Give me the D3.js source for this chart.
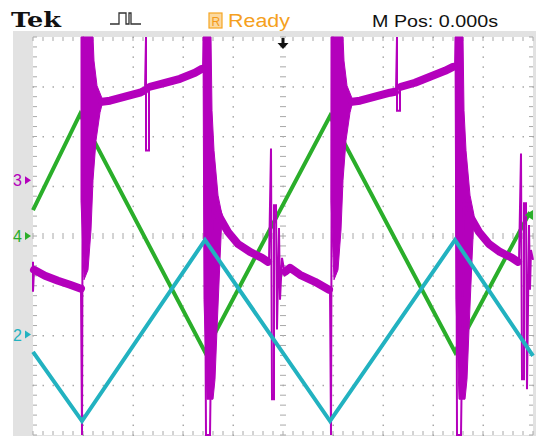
<!DOCTYPE html>
<html>
<head>
<meta charset="utf-8">
<script src="https://cdn.jsdelivr.net/npm/d3@7"></script>
<style>
  body { margin: 0; background: #fff; }
  svg { display: block; }
</style>
</head>
<body>
<div id="scope"></div>
<script>
// values in screen divisions: time (-5..5 div), volts (-4..4 div)
var ch4Green = [[-5.00, 0.52], [-4.06, 2.45], [-1.56, -2.33], [0.94, 2.41], [3.44, -2.33], [4.94, 0.48]];
var ch2Cyan = [[-5.00, -2.33], [-4.02, -3.72], [-1.56, -0.08], [0.94, -3.72], [3.44, -0.08], [5.00, -2.41]];

// ch3 main trace
var ch3Trace = [
  [-5.00, -0.52], [-5.00, -1.12], [-4.98, -0.68], [-4.76, -0.80], [-4.50, -0.90], [-4.26, -0.98], [-4.04, -1.06],
  [-4.02, -4.00], [-4.00, 4.00], [-3.70, 2.72], [-3.46, 2.72], [-3.16, 2.80], [-2.86, 2.88], [-2.76, 2.92],
  [-2.74, 4.00], [-2.74, 1.72], [-2.68, 1.72], [-2.68, 3.00], [-2.36, 3.08], [-2.06, 3.16], [-1.76, 3.28],
  [-1.60, 3.36], [-1.58, 4.00], [-1.54, -4.00], [-1.46, -4.00], [-1.40, 0.72], [-1.26, 0.36], [-1.10, 0.08],
  [-0.90, -0.16], [-0.66, -0.32], [-0.42, -0.44], [-0.28, -0.52], [-0.24, 1.76], [-0.22, -3.28], [-0.18, -3.28],
  [-0.18, 0.62], [-0.14, 0.62], [-0.12, -1.88], [-0.08, 0.16], [-0.06, -1.28], [-0.02, -0.44], [0.04, -0.78],
  [0.14, -0.64], [0.34, -0.78], [0.64, -0.92], [0.94, -1.08], [0.96, -4.00], [0.98, 4.00], [1.30, 2.72],
  [1.54, 2.72], [1.84, 2.80], [2.14, 2.88], [2.26, 2.90], [2.28, 4.00], [2.28, 2.52], [2.34, 2.52], [2.34, 3.00],
  [2.64, 3.08], [2.94, 3.20], [3.24, 3.32], [3.44, 3.40], [3.46, 4.00], [3.48, -4.00], [3.56, -4.00], [3.62, 0.72],
  [3.76, 0.36], [3.92, 0.08], [4.12, -0.16], [4.34, -0.32], [4.58, -0.44], [4.72, -0.52], [4.76, 1.66],
  [4.78, -2.88], [4.82, -2.88], [4.82, 0.66], [4.86, 0.66], [4.88, -3.08], [4.92, 0.22], [4.94, -1.08],
  [4.96, -0.28], [5.00, -0.48]
];

// ch3 ringing envelopes at the switching edges
var ch3Bursts = [
  [[-4.04, 4.00], [-3.80, 4.00], [-3.78, 3.52], [-3.72, 3.02], [-3.60, 2.72], [-3.66, 2.48], [-3.74, 1.92],
   [-3.80, 1.12], [-3.84, 0.12], [-3.90, -0.68], [-3.98, -0.88], [-4.04, 0.72]],
  [[-1.60, 4.00], [-1.44, 4.00], [-1.42, 2.52], [-1.38, 1.72], [-1.30, 0.82], [-1.22, 0.42], [-1.26, -0.48],
   [-1.32, -1.88], [-1.36, -2.88], [-1.40, -3.28], [-1.52, -3.28], [-1.58, -1.28]],
  [[0.96, 4.00], [1.20, 4.00], [1.22, 3.52], [1.28, 3.02], [1.40, 2.72], [1.34, 2.48], [1.26, 1.92],
   [1.20, 1.12], [1.16, 0.12], [1.10, -0.68], [1.02, -0.88], [0.96, 0.72]],
  [[3.44, 4.00], [3.60, 4.00], [3.62, 2.52], [3.66, 1.72], [3.74, 0.82], [3.82, 0.42], [3.78, -0.48],
   [3.72, -1.88], [3.68, -2.88], [3.64, -3.28], [3.52, -3.28], [3.46, -1.28]]
];

// ch3 noisy plateaus
var ch3Noise = [
  [[-4.98, -0.68], [-4.76, -0.80], [-4.50, -0.90], [-4.26, -0.98], [-4.04, -1.06]],
  [[-3.62, 2.70], [-3.46, 2.72], [-3.16, 2.80], [-2.86, 2.88], [-2.78, 2.92]],
  [[-2.66, 3.00], [-2.36, 3.08], [-2.06, 3.16], [-1.76, 3.28], [-1.62, 3.36]],
  [[-1.36, 0.62], [-1.26, 0.36], [-1.10, 0.08], [-0.90, -0.16], [-0.66, -0.32], [-0.42, -0.44], [-0.30, -0.52]],
  [[0.04, -0.72], [0.14, -0.64], [0.34, -0.78], [0.64, -0.92], [0.92, -1.08]],
  [[1.38, 2.70], [1.54, 2.72], [1.84, 2.80], [2.14, 2.88], [2.24, 2.90]],
  [[2.36, 3.00], [2.64, 3.08], [2.94, 3.20], [3.24, 3.32], [3.40, 3.40]],
  [[3.64, 0.62], [3.76, 0.36], [3.92, 0.08], [4.12, -0.16], [4.34, -0.32], [4.58, -0.44], [4.70, -0.52]]
];

// channel ground markers (div)
var markers = [
  {label: "3", level: 1.12, color: "#b400bc"},
  {label: "4", level: 0.0, color: "#2aae2a"},
  {label: "2", level: -1.98, color: "#22b2c0"}
];

var W = 536, H = 436;
var plot = {left: 33, right: 533, top: 37, bottom: 435};

var svg = d3.select("#scope").append("svg")
  .attr("width", W)
  .attr("height", H);

var x = d3.scaleLinear().domain([-5, 5]).range([plot.left, plot.right]);
var y = d3.scaleLinear().domain([-4, 4]).range([plot.bottom, plot.top]);

// frame
svg.append("rect").attr("x", 13).attr("y", 31).attr("width", W - 13).attr("height", H - 31).attr("fill", "#e2e2e2");
svg.append("rect").attr("x", plot.left).attr("y", plot.top)
  .attr("width", plot.right - plot.left).attr("height", plot.bottom - plot.top).attr("fill", "#fff");

// ****************** grid ***************************
var grid = svg.append("g").attr("fill", "#a8a8a8").attr("stroke", "#a8a8a8");
var minors = d3.range(-25, 26).map(function(k) { return k / 5; });
var minorsV = d3.range(-20, 21).map(function(k) { return k / 5; });

d3.range(-4, 5).forEach(function(i) {
  if (i === 0) return;
  grid.selectAll(null).data(minorsV).enter().append("rect")
    .attr("x", x(i) - 0.5).attr("y", function(d) { return y(d) - 0.5; })
    .attr("width", 1.5).attr("height", 1.5).attr("stroke", "none");
});
d3.range(-3, 4).forEach(function(j) {
  if (j === 0) return;
  grid.selectAll(null).data(minors).enter().append("rect")
    .attr("x", function(d) { return x(d) - 0.5; }).attr("y", y(j) - 0.5)
    .attr("width", 1.5).attr("height", 1.5).attr("stroke", "none");
});

// center crosshair ticks
grid.selectAll(null).data(minorsV).enter().append("line")
  .attr("x1", x(0) - 3).attr("x2", x(0) + 3)
  .attr("y1", function(d) { return y(d); }).attr("y2", function(d) { return y(d); });
grid.selectAll(null).data(minors).enter().append("line")
  .attr("y1", y(0) - 3).attr("y2", y(0) + 3)
  .attr("x1", function(d) { return x(d); }).attr("x2", function(d) { return x(d); });

// border ticks
grid.selectAll(null).data(minors).enter().append("line")
  .attr("x1", function(d) { return x(d); }).attr("x2", function(d) { return x(d); })
  .attr("y1", plot.top).attr("y2", plot.top + 4);
grid.selectAll(null).data(minors).enter().append("line")
  .attr("x1", function(d) { return x(d); }).attr("x2", function(d) { return x(d); })
  .attr("y1", plot.bottom - 4).attr("y2", plot.bottom);
grid.selectAll(null).data(minorsV).enter().append("line")
  .attr("y1", function(d) { return y(d); }).attr("y2", function(d) { return y(d); })
  .attr("x1", plot.left).attr("x2", plot.left + 4);
grid.selectAll(null).data(minorsV).enter().append("line")
  .attr("y1", function(d) { return y(d); }).attr("y2", function(d) { return y(d); })
  .attr("x1", plot.right - 4).attr("x2", plot.right);

// ****************** traces ***************************
var line = d3.line().x(function(d) { return x(d[0]); }).y(function(d) { return y(d[1]); });
var traces = svg.append("g");

// green sits under the magenta ringing, cyan above it
traces.append("path").datum(ch4Green)
  .attr("d", line)
  .attr("fill", "none").attr("stroke", "#2aae2a").attr("stroke-width", 4);

traces.selectAll("path.burst").data(ch3Bursts).enter().append("path")
  .attr("class", "burst")
  .attr("d", function(d) { return line(d) + "Z"; })
  .attr("fill", "#b400bc").attr("stroke", "#b400bc").attr("stroke-width", 1);

traces.selectAll("path.noise").data(ch3Noise).enter().append("path")
  .attr("class", "noise")
  .attr("d", line)
  .attr("fill", "none").attr("stroke", "#b400bc").attr("stroke-width", 8)
  .attr("stroke-linejoin", "round").attr("stroke-linecap", "round");

traces.append("path").datum(ch3Trace)
  .attr("d", line)
  .attr("fill", "none").attr("stroke", "#b400bc").attr("stroke-width", 2);

traces.append("path").datum(ch2Cyan)
  .attr("d", line)
  .attr("fill", "none").attr("stroke", "#22b2c0").attr("stroke-width", 4);

// trigger level marker on the right
svg.append("path")
  .attr("d", "M" + (plot.right - 8) + "," + y(0.42) + "l8,-5v10z")
  .attr("fill", "#2aae2a");

// trigger position arrow
var ax = x(0);
svg.append("path")
  .attr("d", "M" + (ax - 1.5) + "," + (plot.top + 1) + "h3v5h4l-5.5,6l-5.5,-6h4z")
  .attr("fill", "#111");

// channel markers
var mk = svg.append("g");
mk.selectAll("text").data(markers).enter().append("text")
  .attr("x", 13).attr("y", function(d) { return y(d.level) + 6; })
  .attr("font-family", "Liberation Sans, Arial, sans-serif").attr("font-size", 16)
  .attr("fill", function(d) { return d.color; })
  .text(function(d) { return d.label; });
mk.selectAll("path").data(markers).enter().append("path")
  .attr("d", function(d) { return "M25," + (y(d.level) - 4) + "l6,4l-6,4z"; })
  .attr("fill", function(d) { return d.color; });

// ****************** header ***************************
var hdr = svg.append("g");
hdr.append("text").attr("x", 11).attr("y", 27)
  .attr("font-family", "DejaVu Serif, serif").attr("font-weight", "bold").attr("font-size", 21)
  .attr("textLength", 50).attr("lengthAdjust", "spacingAndGlyphs")
  .attr("fill", "#111").text("Tek");

// pulse icon
hdr.append("path")
  .attr("d", "M110,24h9v-11h7v11h3v-11h2v11h10")
  .attr("fill", "none").attr("stroke", "#333").attr("stroke-width", 1.3);

// run-state icon and text
hdr.append("rect").attr("x", 209).attr("y", 13).attr("width", 13).attr("height", 15)
  .attr("fill", "#fbd9a0").attr("stroke", "#f5a623").attr("stroke-width", 1.2);
hdr.append("text").attr("x", 211.5).attr("y", 25.5)
  .attr("font-family", "Liberation Sans, Arial, sans-serif").attr("font-size", 12)
  .attr("fill", "#f39a1a").text("R");
hdr.append("text").attr("x", 228).attr("y", 27)
  .attr("font-family", "Liberation Sans, Arial, sans-serif").attr("font-size", 18)
  .attr("textLength", 62).attr("lengthAdjust", "spacingAndGlyphs")
  .attr("fill", "#f5a020").text("Ready");

hdr.append("text").attr("x", 372).attr("y", 27)
  .attr("font-family", "Liberation Sans, Arial, sans-serif").attr("font-size", 17)
  .attr("textLength", 126).attr("lengthAdjust", "spacingAndGlyphs")
  .attr("fill", "#111").text("M Pos: 0.000s");
</script>
</body>
</html>
